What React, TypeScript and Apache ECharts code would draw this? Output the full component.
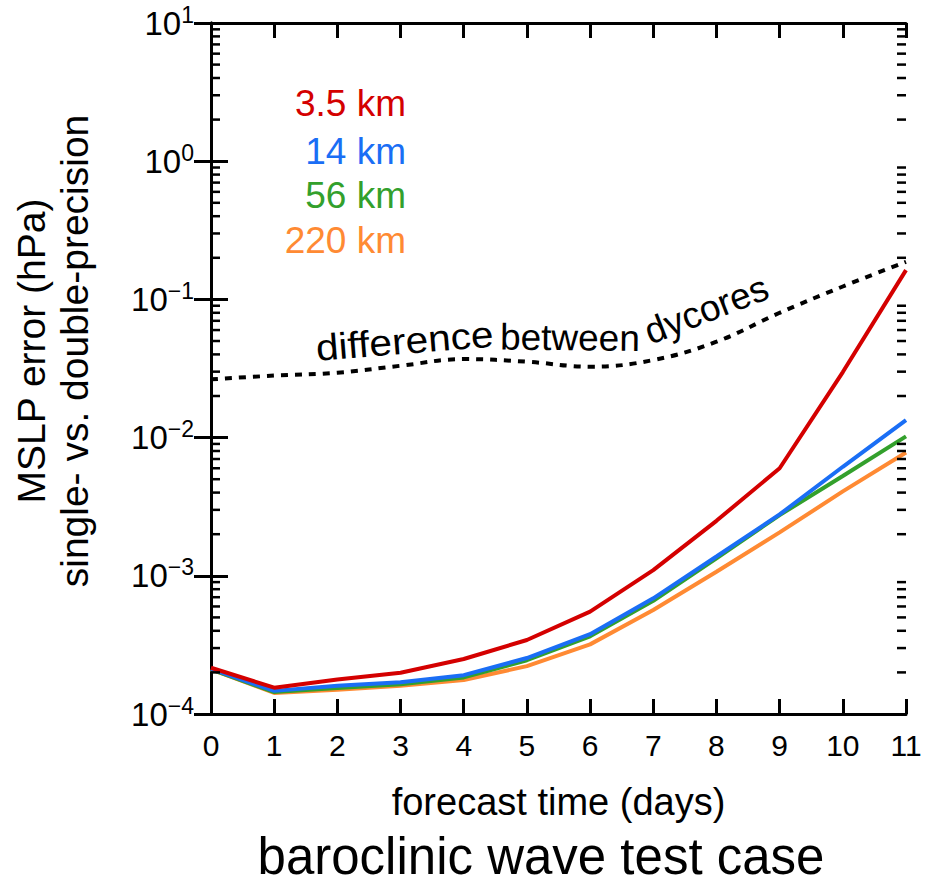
import React, { useEffect, useRef } from "react";
import * as echarts from "echarts";

const days = [0, 1, 2, 3, 4, 5, 6, 7, 8, 9, 10, 11];
const res35km = [2.16e-4, 1.55e-4, 1.78e-4, 1.99e-4, 2.5e-4, 3.43e-4, 5.5e-4, 1.1e-3, 2.5e-3, 6.0e-3, 0.0298, 0.163];
const res14km = [2.12e-4, 1.47e-4, 1.6e-4, 1.7e-4, 1.91e-4, 2.54e-4, 3.78e-4, 6.87e-4, 1.38e-3, 2.78e-3, 6.15e-3, 0.0134];
const res56km = [2.1e-4, 1.44e-4, 1.54e-4, 1.64e-4, 1.84e-4, 2.45e-4, 3.65e-4, 6.6e-4, 1.34e-3, 2.75e-3, 5.27e-3, 0.0102];
const res220km = [2.1e-4, 1.42e-4, 1.5e-4, 1.6e-4, 1.76e-4, 2.22e-4, 3.19e-4, 5.66e-4, 1.07e-3, 2.06e-3, 4.08e-3, 7.8e-3];
const dycoreDiff = [0.0264, 0.0281, 0.0295, 0.0331, 0.037, 0.0354, 0.0326, 0.0364, 0.0494, 0.08, 0.124, 0.187];

const seriesNames = ["3.5 km", "14 km", "56 km", "220 km"];
const seriesColors = ["#d40000", "#1a6ef5", "#33a02c", "#ff8a33"];

const minorMultipliers = [2, 3, 4, 5, 6, 7, 8, 9];
const decadeExponents = [-4, -3, -2, -1, 0];

const FONT = "'Liberation Sans', Arial, Helvetica, sans-serif";

export default function App() {
  const ref = useRef<HTMLDivElement>(null);

  useEffect(() => {
    if (!ref.current) return;
    const chart = echarts.init(ref.current, null, { renderer: "svg" });

    const minorTickValues: number[] = [];
    decadeExponents.forEach((e) =>
      minorMultipliers.forEach((m) => minorTickValues.push(m * Math.pow(10, e)))
    );

    const pair = (arr: number[]) => days.map((d, i) => [d, arr[i]]);
    const dataSets = [res35km, res14km, res56km, res220km];

    const axisLineStyle = { color: "#000", width: 3 };

    const lineSeries = [3, 2, 1, 0].map((k) => ({
      type: "line",
      name: seriesNames[k],
      data: pair(dataSets[k]),
      showSymbol: false,
      symbol: "none",
      lineStyle: { color: seriesColors[k], width: 4 },
      z: 3 + (3 - k),
    }));

    const wordStyle = (t: string) => ({
      text: t,
      fontSize: 37,
      fill: "#000",
      align: "left",
      verticalAlign: "middle",
      fontFamily: FONT,
    });

    const option: any = {
      animation: false,
      textStyle: { fontFamily: FONT },
      grid: { left: 211, right: 19, top: 23, bottom: 170, containLabel: false },
      title: {
        text: "baroclinic wave test case",
        left: 536,
        top: 826,
        textAlign: "center",
        textStyle: { fontSize: 51, fontWeight: "normal", color: "#000", fontFamily: FONT },
      },
      xAxis: [
        {
          type: "value",
          min: 0,
          max: 11,
          interval: 1,
          position: "bottom",
          axisLine: { lineStyle: axisLineStyle },
          axisTick: { inside: true, length: 15, lineStyle: { color: "#000", width: 3 } },
          axisLabel: { fontSize: 30, color: "#000", margin: 16, fontFamily: FONT },
          splitLine: { show: false },
          name: "forecast time (days)",
          nameLocation: "middle",
          nameGap: 69,
          nameTextStyle: { fontSize: 38, color: "#000", fontFamily: FONT },
        },
        {
          type: "value",
          min: 0,
          max: 11,
          interval: 1,
          position: "top",
          axisLine: { lineStyle: axisLineStyle },
          axisTick: { inside: true, length: 15, lineStyle: { color: "#000", width: 3 } },
          axisLabel: { show: false },
          splitLine: { show: false },
        },
      ],
      yAxis: [
        {
          type: "log",
          logBase: 10,
          min: 1e-4,
          max: 10,
          position: "left",
          axisLine: { show: true, lineStyle: axisLineStyle },
          axisTick: { show: true, inside: true, length: 17, lineStyle: { color: "#000", width: 3 } },
          splitLine: { show: false },
          axisLabel: {
            margin: 17,
            color: "#000",
            fontSize: 33,
            formatter: (v: number) => {
              const e = Math.round(Math.log10(v));
              const s = e < 0 ? "\u2212" + String(-e) : String(e);
              return "{b|10}{s|" + s + "}";
            },
            rich: {
              b: { fontSize: 33, lineHeight: 40, color: "#000", fontFamily: FONT },
              s: { fontSize: 23, verticalAlign: "top", color: "#000", fontFamily: FONT },
            },
          },
        },
        {
          type: "log",
          logBase: 10,
          min: 1e-4,
          max: 10,
          position: "right",
          axisLine: { show: true, lineStyle: axisLineStyle },
          axisTick: { show: true, inside: true, length: 17, lineStyle: { color: "#000", width: 3 } },
          splitLine: { show: false },
          axisLabel: { show: false },
        },
      ],
      series: [
        {
          type: "custom",
          name: "minor ticks",
          silent: true,
          coordinateSystem: "cartesian2d",
          encode: { x: 0, y: 1 },
          data: minorTickValues.map((v) => [0, v]),
          z: 10,
          clip: false,
          renderItem: (params: any, api: any) => {
            const v = api.value(1);
            const pl = api.coord([0, v]);
            const pr = api.coord([11, v]);
            return {
              type: "group",
              children: [
                {
                  type: "line",
                  shape: { x1: pl[0], y1: pl[1], x2: pl[0] + 9, y2: pl[1] },
                  style: { stroke: "#000", lineWidth: 2.5 },
                },
                {
                  type: "line",
                  shape: { x1: pr[0] - 9, y1: pr[1], x2: pr[0], y2: pr[1] },
                  style: { stroke: "#000", lineWidth: 2.5 },
                },
              ],
            };
          },
        },
        {
          type: "line",
          name: "difference between dycores",
          data: pair(dycoreDiff),
          smooth: 0.4,
          showSymbol: false,
          symbol: "none",
          lineStyle: { color: "#000", width: 4, type: [7, 7], cap: "butt" },
          z: 2,
        },
        ...lineSeries,
      ],
      graphic: [
        {
          type: "text",
          x: 53,
          y: 351,
          rotation: Math.PI / 2,
          style: {
            text: "MSLP error (hPa)\nsingle- vs. double-precision",
            fontSize: 39,
            lineHeight: 43,
            fill: "#000",
            align: "center",
            verticalAlign: "middle",
            fontFamily: FONT,
          },
        },
        ...seriesNames.map((n, i) => ({
          type: "text",
          x: 406,
          y: [103, 151, 195, 240][i],
          style: {
            text: n,
            fontSize: 37,
            fill: seriesColors[i],
            align: "right",
            verticalAlign: "middle",
            fontFamily: FONT,
          },
        })),
        { type: "text", x: 316, y: 348, rotation: 0.08, scaleX: 1.1, style: wordStyle("difference") },
        { type: "text", x: 500, y: 337, rotation: -0.01, style: wordStyle("between") },
        { type: "text", x: 646, y: 333, rotation: 0.37, style: wordStyle("dycores") },
      ],
    };

    chart.setOption(option);
    return () => chart.dispose();
  }, []);

  return (
    <div
      ref={ref}
      style={{ position: "fixed", left: 0, top: 0, width: 925, height: 884, background: "#fff" }}
    />
  );
}
